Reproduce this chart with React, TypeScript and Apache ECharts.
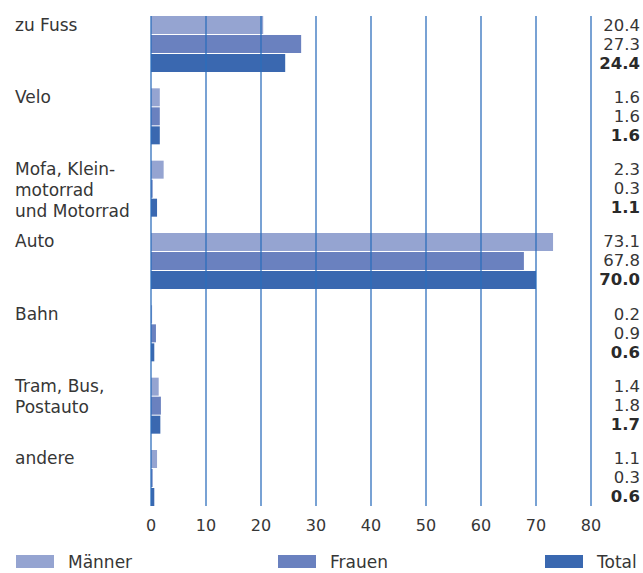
import React, { useEffect, useRef } from "react";
import * as echarts from "echarts";

const categories = [
  "zu Fuss",
  "Velo",
  "Mofa, Klein-\nmotorrad\nund Motorrad",
  "Auto",
  "Bahn",
  "Tram, Bus,\nPostauto",
  "andere",
];
const seriesNames = ["Männer", "Frauen", "Total"];
const maenner = [20.4, 1.6, 2.3, 73.1, 0.2, 1.4, 1.1];
const frauen = [27.3, 1.6, 0.3, 67.8, 0.9, 1.8, 0.3];
const total = [24.4, 1.6, 1.1, 70.0, 0.6, 1.7, 0.6];
const xMin = 0;
const xMax = 80;
const xInterval = 10;

const colors = ["#95a4d1", "#6a81bf", "#3a68b0"];
const FONT = "DejaVu Sans";
const TEXT = "#363636";

export default function App() {
  const ref = useRef<HTMLDivElement>(null);
  useEffect(() => {
    document.body.style.margin = "0";
    if (!ref.current) return;
    const chart = echarts.init(ref.current, undefined, { renderer: "svg" });
    const band = 72.333;
    const groupTop = 16;
    const left = 151;
    const width = 440;
    const gridATop = groupTop + 28 - band / 2;
    const values = [maenner, frauen, total];
    chart.setOption({
      animation: false,
      backgroundColor: "#ffffff",
      textStyle: { fontFamily: FONT },
      grid: [
        { left, width, top: gridATop, height: band * 7 },
        { left, width, top: 16, height: 490 },
        { left, width, top: groupTop - 2, height: band * 6 },
      ],
      xAxis: [
        { type: "value", gridIndex: 0, min: xMin, max: xMax, interval: xInterval, show: false },
        {
          type: "value",
          gridIndex: 1,
          min: xMin,
          max: xMax,
          interval: xInterval,
          z: 10,
          axisLine: { show: false },
          axisTick: { show: false },
          axisLabel: { fontSize: 16, color: TEXT, margin: 11, fontFamily: FONT },
          splitLine: {
            show: true,
            showMinLine: true,
            showMaxLine: true,
            lineStyle: { color: "#2a6dbb", width: 1.5, opacity: 0.85 },
          },
        },
        { type: "value", gridIndex: 2, show: false },
      ],
      yAxis: [
        {
          type: "category",
          gridIndex: 0,
          data: categories,
          inverse: true,
          axisLine: { show: false },
          axisTick: { show: false },
          axisLabel: { show: false },
        },
        {
          type: "category",
          gridIndex: 0,
          data: categories,
          inverse: true,
          position: "right",
          axisLine: { show: false },
          axisTick: { show: false },
          axisLabel: {
            interval: 0,
            align: "right",
            margin: 49,
            formatter: (_v: string, i: number) =>
              `{n|${maenner[i].toFixed(1)}}\n{n|${frauen[i].toFixed(1)}}\n{b|${total[i].toFixed(1)}}`,
            rich: {
              n: { fontSize: 16.5, lineHeight: 19, color: TEXT, fontFamily: FONT },
              b: { fontSize: 16.5, lineHeight: 19, color: "#2a2a2a", fontWeight: "bold", fontFamily: FONT },
            },
          },
        },
        { type: "value", gridIndex: 1, show: false },
        {
          type: "category",
          gridIndex: 2,
          data: categories,
          inverse: true,
          boundaryGap: false,
          axisLine: { show: false },
          axisTick: { show: false },
          axisLabel: {
            interval: 0,
            align: "left",
            verticalAlign: "top",
            margin: 136,
            fontSize: 17,
            lineHeight: 21,
            color: TEXT,
            fontFamily: FONT,
          },
        },
      ],
      legend: seriesNames.map((n, i) => ({
        data: [n],
        left: [16, 278, 545][i],
        top: 553,
        padding: 0,
        itemWidth: 38,
        itemHeight: 13,
        icon: "rect",
        selectedMode: false,
        textStyle: { fontSize: 17, color: TEXT, fontFamily: FONT, padding: [2, 0, 0, 9] },
      })),
      series: seriesNames.map((n, i) => ({
        name: n,
        type: "bar",
        xAxisIndex: 0,
        yAxisIndex: 0,
        data: values[i],
        barWidth: 18,
        barGap: "5.6%",
        itemStyle: { color: colors[i] },
      })),
    });
    return () => chart.dispose();
  }, []);
  return <div ref={ref} style={{ width: 643, height: 573 }} />;
}
